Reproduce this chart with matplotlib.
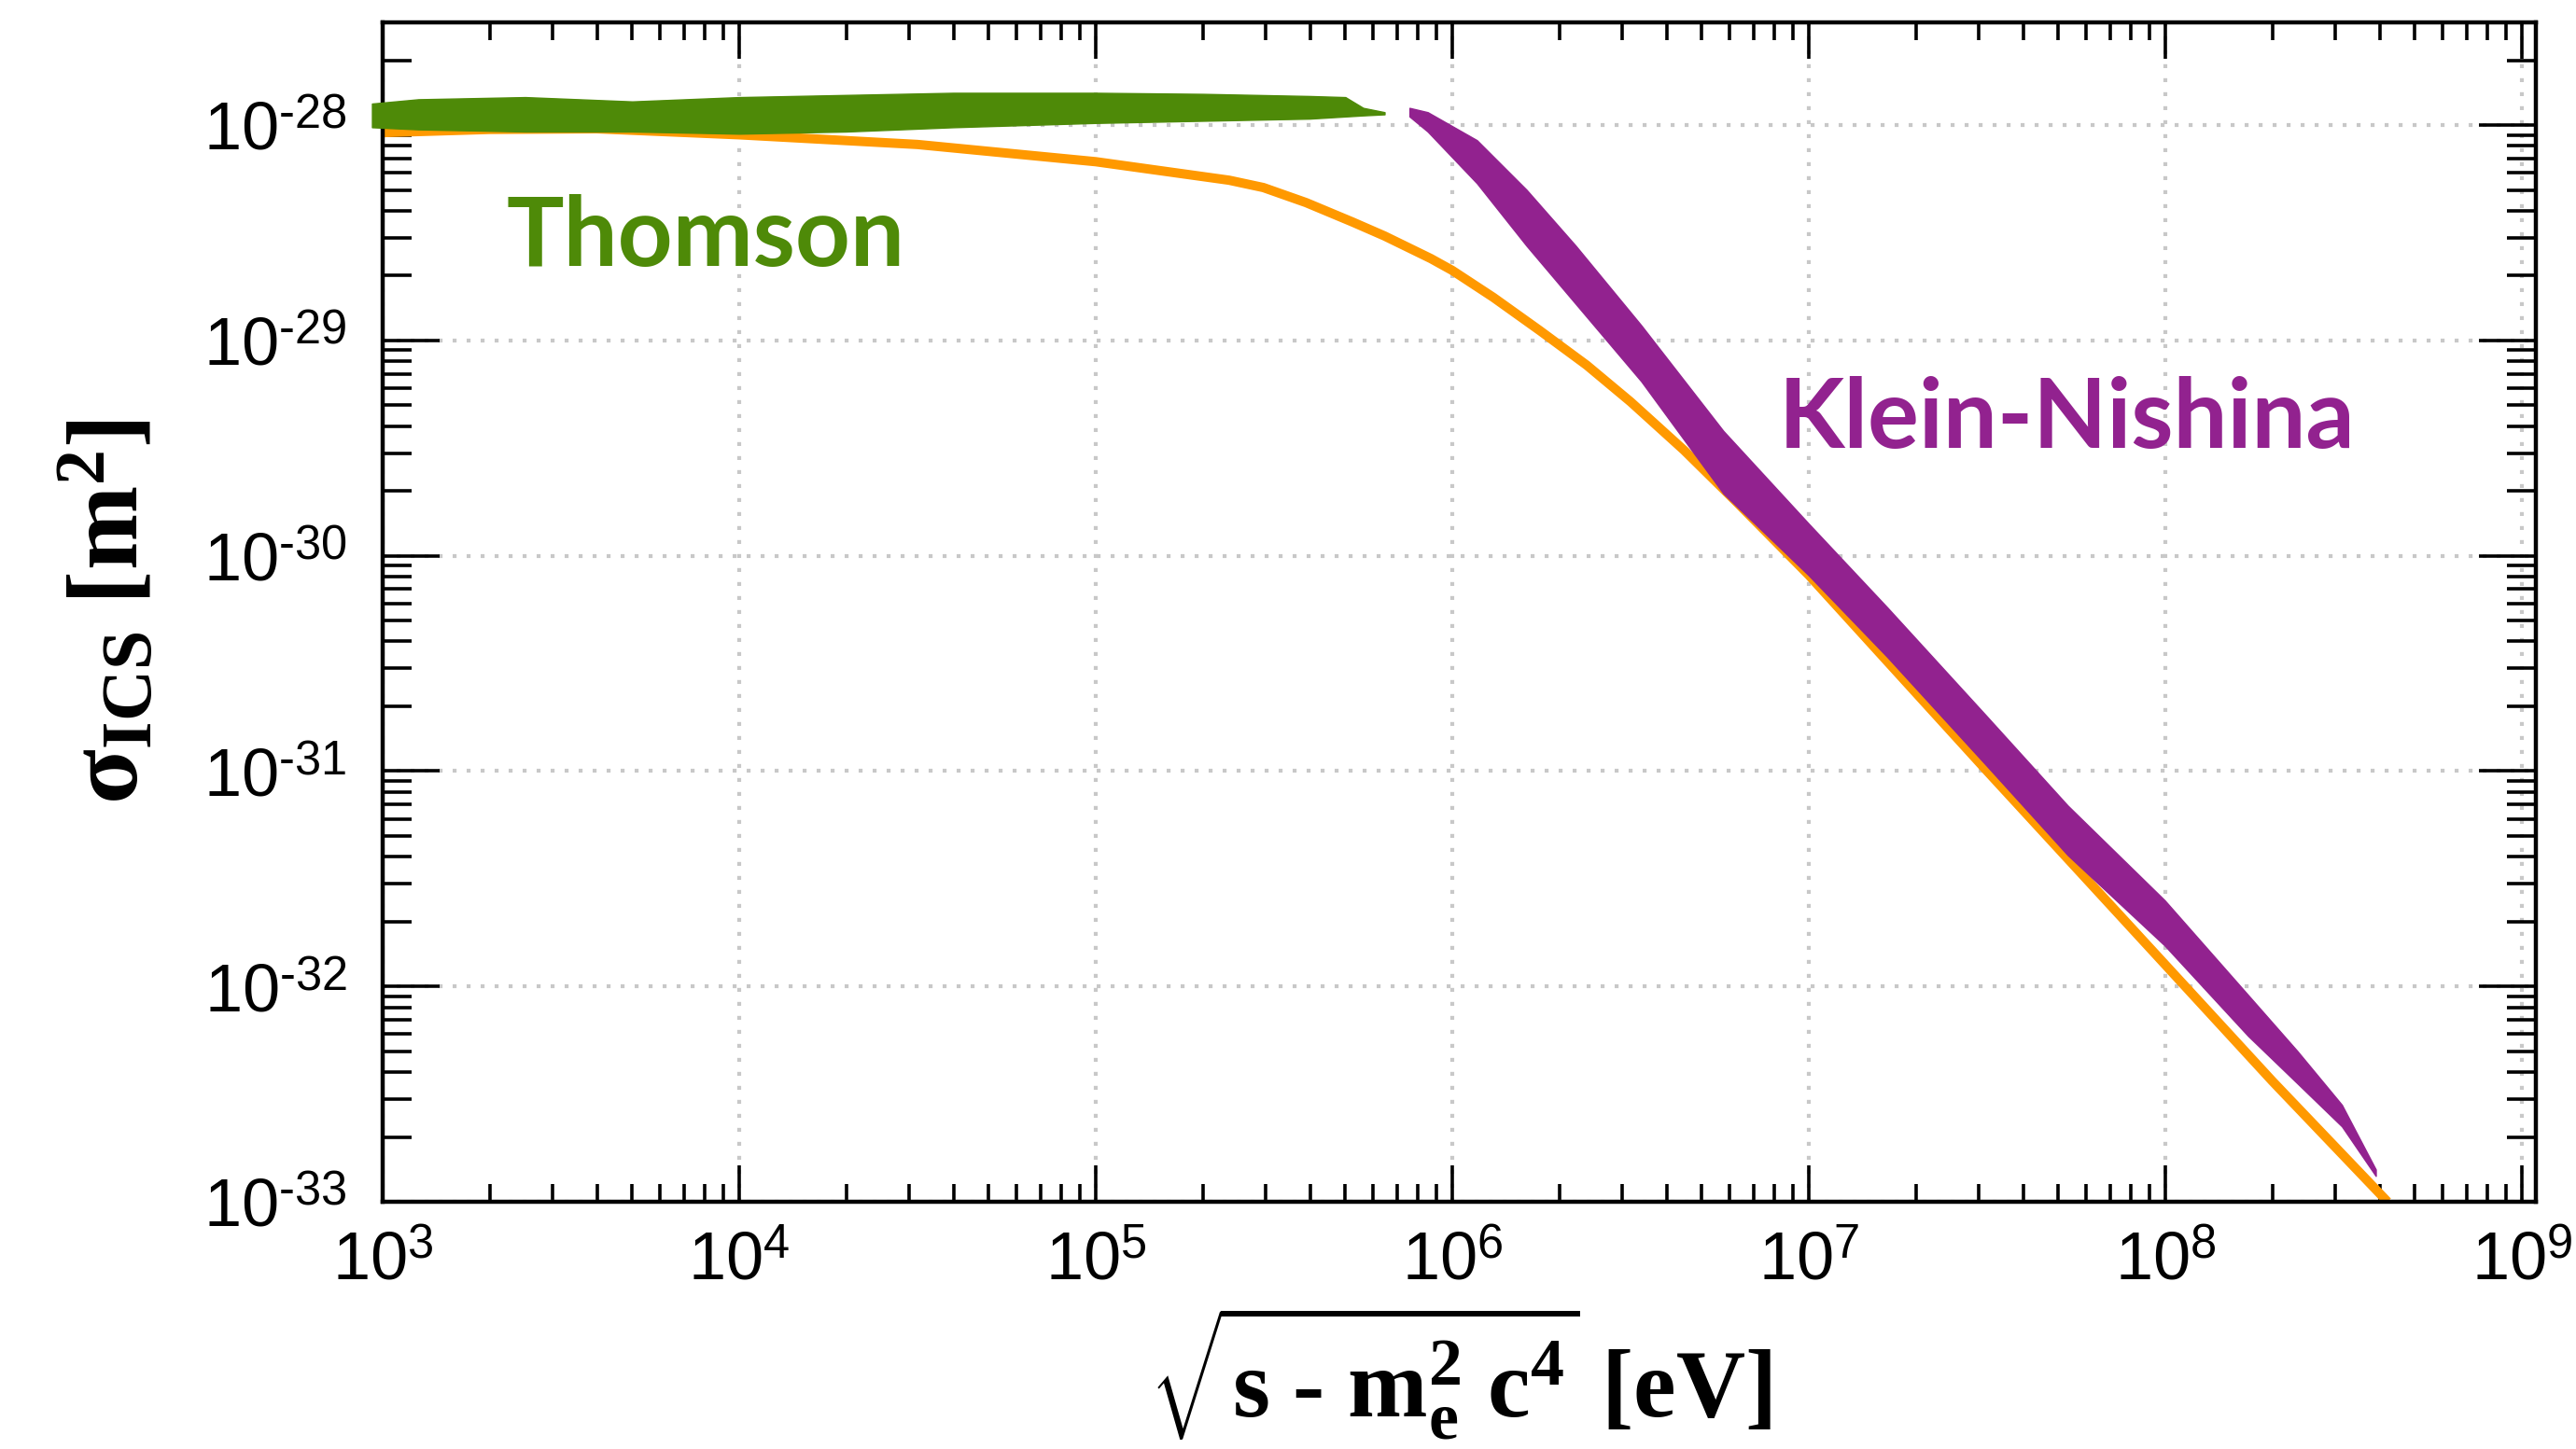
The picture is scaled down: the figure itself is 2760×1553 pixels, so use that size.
import numpy as np
import matplotlib
matplotlib.use('Agg')
import matplotlib.pyplot as plt
from matplotlib import font_manager
from matplotlib.ticker import LogLocator, FixedLocator, FuncFormatter, NullFormatter

# log10 values
# orange curve
line_logx = [3.0, 3.3, 3.6, 4.0, 4.5, 5.0, 5.374, 5.47, 5.59, 5.72, 5.81, 5.94, 6.0,
             6.115, 6.246, 6.377, 6.5, 6.65, 6.8, 7.0, 7.5, 8.0, 8.3, 8.623]
line_logy = [-28.035, -28.02, -28.017, -28.045, -28.09, -28.17, -28.256, -28.29, -28.36,
             -28.45, -28.515, -28.62, -28.675, -28.80, -28.955, -29.115, -29.285, -29.51,
             -29.755, -30.09, -31.0, -31.90, -32.44, -33.0]

# Thomson band (green)
thom_logx = [2.97, 3.1, 3.4, 3.7, 4.0, 4.3, 4.6, 5.0, 5.3, 5.6, 5.70, 5.75, 5.81]
thom_lo = [-28.01, -28.02, -28.03, -28.03, -28.04, -28.03, -28.01, -27.99, -27.98,
           -27.97, -27.96, -27.955, -27.95]
thom_hi = [-27.90, -27.88, -27.87, -27.89, -27.87, -27.86, -27.85, -27.85, -27.855,
           -27.865, -27.87, -27.92, -27.94]

# Klein-Nishina band (purple)
kn_logx = [5.88, 5.931, 6.069, 6.208, 6.346, 6.53, 6.76, 6.999, 7.22, 7.496, 7.726,
           7.998, 8.232, 8.37, 8.495, 8.59]
kn_lo = [-27.96, -28.03, -28.27, -28.56, -28.83, -29.19, -29.71, -30.09, -30.47, -30.97,
         -31.39, -31.81, -32.23, -32.45, -32.65, -32.88]
kn_hi = [-27.92, -27.94, -28.07, -28.30, -28.56, -28.93, -29.42, -29.85, -30.24, -30.74,
         -31.16, -31.60, -32.04, -32.30, -32.55, -32.85]

# tick decades
xtick_exp = [3, 4, 5, 6, 7, 8, 9]
ytick_exp = [-33, -32, -31, -30, -29, -28]

green = '#4e8a08'
purple = '#92228f'
orange = '#ff9900'

names = {f.name for f in font_manager.fontManager.ttflist}
tick_font = 'Liberation Sans Narrow' if 'Liberation Sans Narrow' in names else 'Liberation Sans'
tick_size = 30 if tick_font == 'Liberation Sans Narrow' else 26

plt.rcParams['mathtext.fontset'] = 'custom'
plt.rcParams['mathtext.rm'] = tick_font
plt.rcParams['mathtext.sf'] = tick_font
plt.rcParams['mathtext.bf'] = 'Liberation Serif:bold'
plt.rcParams['mathtext.it'] = 'Liberation Serif:italic'

fig = plt.figure(figsize=(13.8, 7.765), dpi=200)
ax = fig.add_axes([0.14855, 0.17064, 0.83587, 0.81391])

ax.plot(np.power(10.0, line_logx), np.power(10.0, line_logy), color=orange, lw=3.6,
        solid_capstyle='butt', solid_joinstyle='round', zorder=2)
ax.fill_between(np.power(10.0, thom_logx), np.power(10.0, thom_lo), np.power(10.0, thom_hi),
                color=green, lw=0.5, zorder=3, clip_on=False)
ax.fill_between(np.power(10.0, kn_logx), np.power(10.0, kn_lo), np.power(10.0, kn_hi),
                color=purple, lw=0.5, zorder=3)

ax.set_xscale('log')
ax.set_yscale('log')
ax.set_xlim(1e3, 10 ** 9.039)
ax.set_ylim(1e-33, 10 ** -27.523)

ax.xaxis.set_major_locator(FixedLocator(np.power(10.0, xtick_exp)))
ax.yaxis.set_major_locator(FixedLocator(np.power(10.0, ytick_exp)))
ax.xaxis.set_minor_locator(LogLocator(base=10, subs=np.arange(2, 10), numticks=20))
ax.yaxis.set_minor_locator(LogLocator(base=10, subs=np.arange(2, 10), numticks=20))
ax.xaxis.set_minor_formatter(NullFormatter())
ax.yaxis.set_minor_formatter(NullFormatter())


def fmt(v, pos):
    e = int(round(np.log10(v)))
    return '$10^{%s}$' % str(e).replace('-', '\u2010')


ax.xaxis.set_major_formatter(FuncFormatter(fmt))
ax.yaxis.set_major_formatter(FuncFormatter(fmt))

ax.tick_params(which='both', direction='in', top=True, right=True, width=1.3, colors='black')
ax.tick_params(axis='x', which='major', length=14, pad=10.8, labelsize=tick_size)
ax.tick_params(axis='x', which='minor', length=7)
ax.tick_params(axis='y', which='major', length=22, pad=13.7, labelsize=tick_size)
ax.tick_params(axis='y', which='minor', length=11)
for s in ax.spines.values():
    s.set_linewidth(1.6)

ax.grid(True, which='major', color='#c8c8c8', linestyle=(0, (1, 2.6)), linewidth=1.5)
ax.set_axisbelow(True)

fig.text(0.567, 0.022, '$\\mathbf{\\sqrt{s\\ \u2010\\ m_e^2\\ c^4}\\ [eV]}$', fontsize=37,
         ha='center', va='baseline')
ax.set_ylabel('$\\mathbf{σ_{ICS}\\ [m^2]}$', fontsize=39)
ax.yaxis.set_label_coords(-0.1036, 0.5)

ax.text(10 ** 3.346, 10 ** -28.654, 'Thomson', color=green, fontsize=37,
        fontweight='bold', family=['Lato', 'DejaVu Sans'], ha='left', va='baseline')
ax.text(10 ** 6.916, 10 ** -29.499, 'Klein-Nishina', color=purple, fontsize=37,
        fontweight='bold', family=['Lato', 'DejaVu Sans'], ha='left', va='baseline')

fig.savefig('out.png', dpi=200)
